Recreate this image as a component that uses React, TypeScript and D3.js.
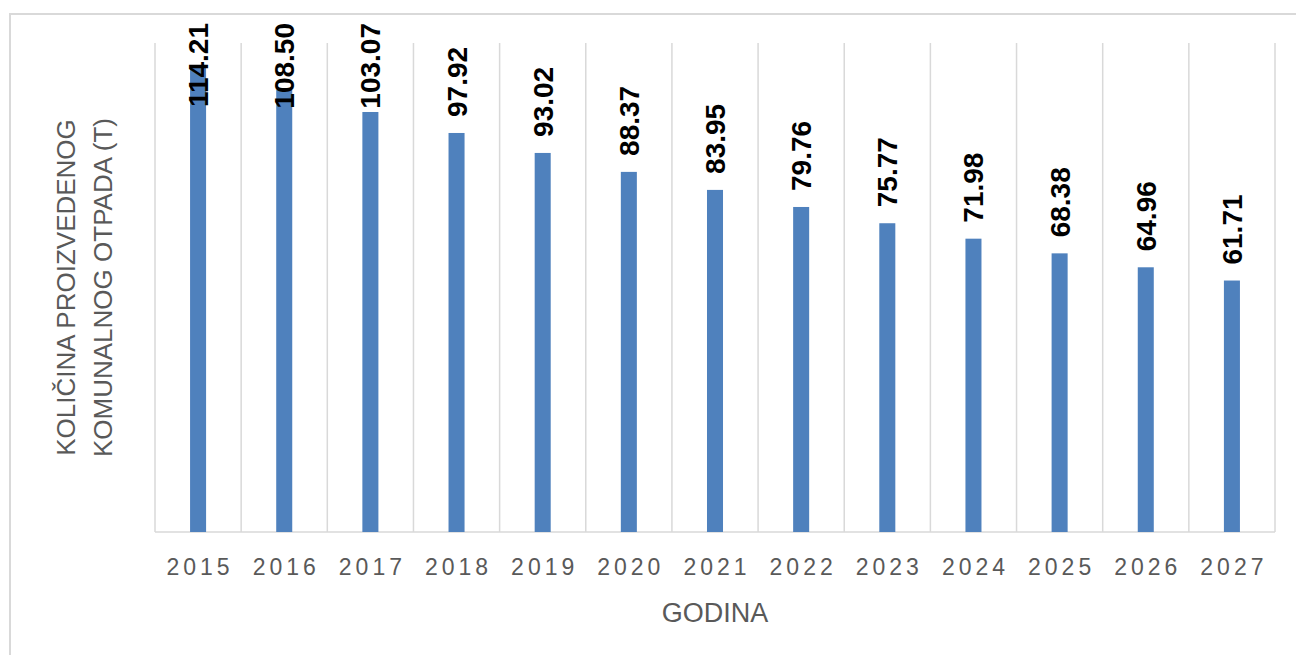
import React, { useEffect, useRef } from 'react'
import * as d3 from 'd3'

const years = ['2015', '2016', '2017', '2018', '2019', '2020', '2021', '2022', '2023', '2024', '2025', '2026', '2027']
const waste = [114.21, 108.5, 103.07, 97.92, 93.02, 88.37, 83.95, 79.76, 75.77, 71.98, 68.38, 64.96, 61.71]
const yTitle = ['KOLIČINA PROIZVEDENOG', 'KOMUNALNOG OTPADA (T)']
const xTitle = 'GODINA'

const W = 1296
const H = 655

export default function App() {
    const ref = useRef<SVGSVGElement>(null)

    useEffect(() => {
        const svg = d3.select(ref.current)
        svg.selectAll('*').remove()

        const left = 155, right = 1275, top = 43, bottom = 532
        const font = '"Liberation Sans", Arial, sans-serif'

        const x = d3.scaleBand().domain(years).range([left, right]).padding(0)
        const y = d3.scaleLinear().domain([0, 120]).range([bottom, top])
        const barW = x.bandwidth() * 0.186

        // chart border (cropped at right / bottom)
        svg.append('rect')
            .attr('x', 10).attr('y', 14)
            .attr('width', W + 20).attr('height', H + 20)
            .attr('fill', 'white').attr('stroke', '#d9d9d9').attr('stroke-width', 2)

        // vertical gridlines at category edges
        const edges = years.map(d => x(d) as number).concat([right])
        svg.append('g').selectAll('line')
            .data(edges)
            .enter()
            .append('line')
            .attr('x1', d => d).attr('x2', d => d)
            .attr('y1', top).attr('y2', bottom)
            .attr('stroke', '#d9d9d9').attr('stroke-width', 1.5)

        svg.append('line')
            .attr('x1', left).attr('x2', right)
            .attr('y1', bottom).attr('y2', bottom)
            .attr('stroke', '#d9d9d9').attr('stroke-width', 1.5)

        // bars
        svg.append('g').selectAll('rect')
            .data(waste)
            .enter()
            .append('rect')
            .attr('x', (d, i) => (x(years[i]) as number) + (x.bandwidth() - barW) / 2)
            .attr('y', d => y(d))
            .attr('width', barW)
            .attr('height', d => bottom - y(d))
            .attr('fill', '#4f81bd')

        // value labels, rotated, kept inside the chart
        const labels = svg.append('g').selectAll('text')
            .data(waste)
            .enter()
            .append('text')
            .text(d => d.toFixed(2))
            .attr('font-family', font)
            .attr('font-weight', 'bold')
            .attr('font-size', 28)
            .attr('fill', '#000')
            .attr('text-anchor', 'start')
        labels.each(function (d, i) {
            const t = this as SVGTextElement
            const len = t.getComputedTextLength()
            let start = y(d) - 16
            if (start - len < 23) start = 23 + len
            const cx = (x(years[i]) as number) + x.bandwidth() / 2 + 10
            d3.select(t).attr('transform', 'translate(' + cx + ',' + start + ') rotate(-90)')
        })

        // x tick labels
        svg.append('g').selectAll('text')
            .data(years)
            .enter()
            .append('text')
            .text(d => d)
            .attr('x', d => (x(d) as number) + x.bandwidth() / 2 + 2)
            .attr('y', 575)
            .attr('text-anchor', 'middle')
            .attr('font-family', font)
            .attr('font-size', 23)
            .attr('letter-spacing', 4)
            .attr('fill', '#595959')

        // axis titles
        svg.append('text')
            .text(xTitle)
            .attr('x', 715).attr('y', 622)
            .attr('text-anchor', 'middle')
            .attr('font-family', font)
            .attr('font-size', 27)
            .attr('fill', '#595959')

        const yt = svg.append('text')
            .attr('transform', 'translate(75,' + (top + bottom) / 2 + ') rotate(-90)')
            .attr('text-anchor', 'middle')
            .attr('font-family', font)
            .attr('font-size', 26)
            .attr('fill', '#595959')
        yt.selectAll('tspan')
            .data(yTitle)
            .enter()
            .append('tspan')
            .attr('x', 0)
            .attr('dy', (d, i) => (i === 0 ? 0 : 37))
            .text(d => d)
    }, [])

    return (
        <svg ref={ref} width={W} height={H}
            style={{ position: 'absolute', left: 0, top: 0, background: 'white' }} />
    )
}
